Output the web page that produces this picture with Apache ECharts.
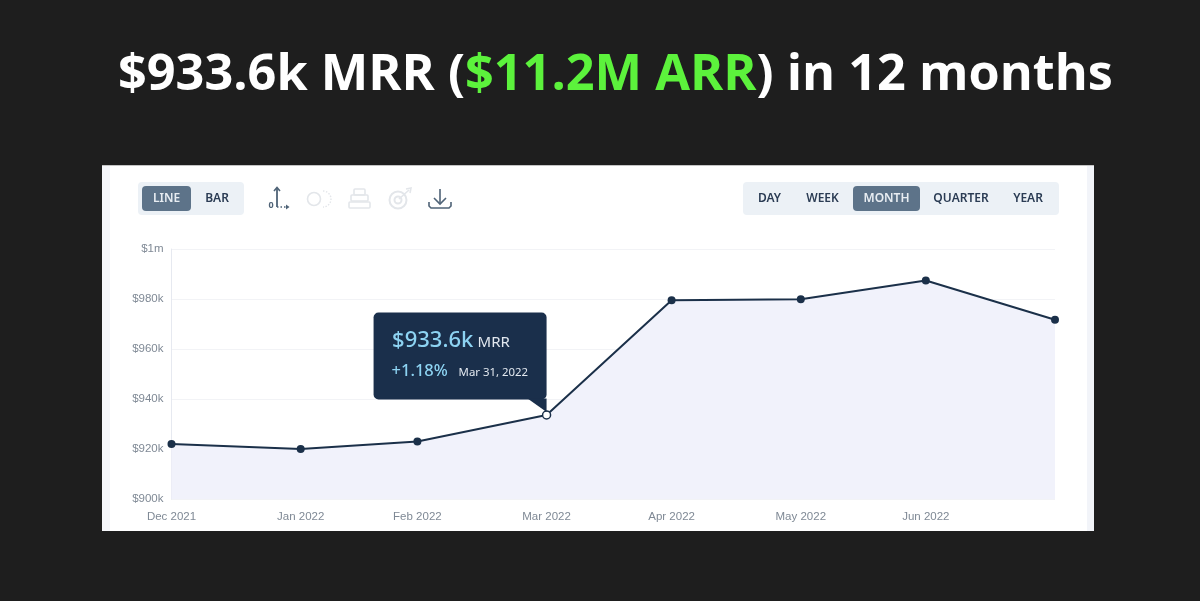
<!DOCTYPE html>
<html lang="en">

<head>
    <meta charset="UTF-8">
    <title>MRR Line Chart</title>
    <style>
        html, body { margin: 0; padding: 0; background: #1e1e1e; }
    </style>
    <script src="https://cdn.jsdelivr.net/npm/echarts@6/dist/echarts.min.js"></script>
</head>

<body>
    <div id="chart" style="width: 1200px; height: 601px;"></div>
    <script>
        const dates = ['2021-12-31', '2022-01-31', '2022-02-28', '2022-03-31', '2022-04-30', '2022-05-31', '2022-06-30', '2022-07-31'];
        const mrr = [922000, 920000, 923000, 933600, 979500, 979900, 987400, 971700];
        const monthLabels = ['Dec 2021', 'Jan 2022', 'Feb 2022', 'Mar 2022', 'Apr 2022', 'May 2022', 'Jun 2022'];
        const yTicks = { 900000: '$900k', 920000: '$920k', 940000: '$940k', 960000: '$960k', 980000: '$980k', 1000000: '$1m' };
        const chartTypes = ['LINE', 'BAR'];
        const periods = ['DAY', 'WEEK', 'MONTH', 'QUARTER', 'YEAR'];

        // x is a plain value axis in timestamps, months are not evenly wide
        const times = dates.map(d => +echarts.time.parse(d));
        const selected = 3;

        let myChart = echarts.init(document.getElementById('chart'));

        const sans = '"Liberation Sans", Arial, sans-serif';
        const ui = '"Noto Sans", sans-serif';

        function button(x, y, w, h, label, active) {
            let items = [];
            if (active) {
                items.push({ type: 'rect', shape: { x: x, y: y, width: w, height: h, r: 4 }, style: { fill: '#5d7389' }, z: 3 });
            }
            items.push({
                type: 'text', x: x + w / 2, y: y + h / 2 + 0.5, z: 4,
                style: { text: label, fill: active ? '#e8edf2' : '#2b3c54', font: '600 12px ' + ui, align: 'center', verticalAlign: 'middle' }
            });
            return items;
        }

        function stroke(shapeType, shape, color, width, dash) {
            return { type: shapeType, shape: shape, z: 3, style: { stroke: color, lineWidth: width || 1.6, fill: null, lineDash: dash || null } };
        }

        const iconDark = '#4f6377';
        const iconLight = '#e3e6ea';
        const icons = [
            // axis icon
            stroke('line', { x1: 277, y1: 188, x2: 277, y2: 207 }, iconDark, 1.8),
            stroke('polyline', { points: [[274, 191], [277, 187.5], [280, 191]] }, iconDark),
            { type: 'text', x: 271, y: 205, z: 3, style: { text: '0', fill: iconDark, font: 'bold 9px ' + ui, align: 'center', verticalAlign: 'middle' } },
            stroke('line', { x1: 277, y1: 207, x2: 286, y2: 207 }, iconDark, 1.6, [1.5, 2]),
            { type: 'polygon', shape: { points: [[286, 204.5], [289.5, 207], [286, 209.5]] }, style: { fill: iconDark }, z: 3 },
            // overlap icon
            stroke('circle', { cx: 314, cy: 199, r: 6.5 }, iconLight),
            stroke('arc', { cx: 323, cy: 199, r: 8, startAngle: -Math.PI / 2, endAngle: Math.PI / 2 }, iconLight, 1.4, [1.5, 1.5]),
            // stack icon
            stroke('rect', { x: 354, y: 189, width: 11, height: 6, r: 1 }, iconLight),
            stroke('rect', { x: 351, y: 195, width: 17, height: 6, r: 1 }, iconLight),
            stroke('rect', { x: 349, y: 202, width: 21, height: 6, r: 1 }, iconLight),
            // target icon
            stroke('circle', { cx: 398, cy: 200, r: 8.5 }, iconLight, 2),
            stroke('circle', { cx: 398, cy: 200, r: 3.5 }, iconLight, 2),
            stroke('line', { x1: 399, y1: 199, x2: 409, y2: 190 }, iconLight),
            stroke('polyline', { points: [[406, 189], [411, 188], [410, 193]] }, iconLight),
            // download icon
            stroke('line', { x1: 440, y1: 189, x2: 440, y2: 203 }, iconDark),
            stroke('polyline', { points: [[434, 198], [440, 204], [446, 198]] }, iconDark),
            stroke('polyline', { points: [[429, 202], [429, 206], [431, 208], [449, 208], [451, 206], [451, 202]] }, iconDark)
        ];

        const chrome = [
            { type: 'rect', shape: { x: 102, y: 165, width: 992, height: 366 }, style: { fill: '#ffffff' }, z: -1 },
            { type: 'rect', shape: { x: 102, y: 165, width: 8, height: 366 }, style: { fill: '#f5f6fa' }, z: -1 },
            { type: 'rect', shape: { x: 1087, y: 165, width: 7, height: 366 }, style: { fill: '#f2f4f9' }, z: -1 },
            { type: 'rect', shape: { x: 102, y: 165, width: 992, height: 1 }, style: { fill: '#c4c4c4' }, z: -1 },
            { type: 'rect', shape: { x: 138, y: 182, width: 106, height: 33, r: 4 }, style: { fill: '#ecf1f6' }, z: 2 },
            { type: 'rect', shape: { x: 743, y: 182, width: 316, height: 33, r: 4 }, style: { fill: '#ecf1f6' }, z: 2 }
        ].concat(
            button(142, 186, 49, 25, chartTypes[0], true),
            button(193, 186, 48, 25, chartTypes[1], false),
            button(750, 186, 39, 25, periods[0], false),
            button(798, 186, 49, 25, periods[1], false),
            button(853, 186, 67, 25, periods[2], true),
            button(926, 186, 70, 25, periods[3], false),
            button(1004, 186, 48, 25, periods[4], false),
            icons
        );

        let option = {
            animation: false,
            backgroundColor: '#1e1e1e',
            title: {
                left: 113,
                top: 46,
                text: '{w|$933.6k MRR (}{g|$11.2M ARR}{w|) in 12 months}',
                textStyle: {
                    rich: {
                        w: { color: '#ffffff', fontSize: 50.4, fontWeight: 'bold', fontFamily: '"Open Sans", sans-serif' },
                        g: { color: '#5cf23c', fontSize: 50.4, fontWeight: 'bold', fontFamily: '"Open Sans", sans-serif' }
                    }
                }
            },
            grid: { left: 171.5, right: 145, top: 249, bottom: 102 },
            xAxis: {
                type: 'value',
                min: times[0],
                max: times[times.length - 1],
                axisLine: { show: false },
                axisTick: { show: false },
                splitLine: { show: false },
                axisLabel: {
                    customValues: times.slice(0, monthLabels.length),
                    formatter: v => monthLabels[times.indexOf(v)] || '',
                    color: '#7f8995',
                    fontSize: 11.5,
                    fontFamily: sans,
                    margin: 12,
                    hideOverlap: false
                }
            },
            yAxis: {
                type: 'value',
                min: 900000,
                max: 1000000,
                interval: 20000,
                axisLine: { show: true, lineStyle: { color: '#e6e9f0', width: 1 } },
                axisTick: { show: false },
                splitLine: { lineStyle: { color: '#e4e7ec', type: 'dotted', width: 1 } },
                axisLabel: {
                    formatter: v => yTicks[v],
                    color: '#7f8995',
                    fontSize: 11.5,
                    fontFamily: sans,
                    margin: 8,
                    padding: [4, 0, 0, 0]
                }
            },
            series: [
                {
                    type: 'line',
                    data: times.map((t, i) => ({
                        value: [t, mrr[i]],
                        itemStyle: i === selected ? { color: '#ffffff', borderColor: '#1b3049', borderWidth: 1.5 } : undefined
                    })),
                    symbol: 'circle',
                    symbolSize: 8,
                    showAllSymbol: true,
                    z: 5,
                    itemStyle: { color: '#1b3049' },
                    lineStyle: { color: '#1b3049', width: 2 },
                    areaStyle: { color: '#f1f2fb', opacity: 1 }
                }
            ],
            graphic: chrome
        };

        myChart.setOption(option);

        // tooltip sits relative to the selected point
        const p = myChart.convertToPixel('grid', [times[selected], mrr[selected]]);
        const bx = p[0] - 173, by = p[1] - 102.5;
        myChart.setOption({
            graphic: chrome.concat([
                { type: 'rect', shape: { x: bx, y: by, width: 173, height: 87, r: 5 }, style: { fill: '#1a2f4b' }, z: 10 },
                { type: 'polygon', shape: { points: [[p[0] - 19, by + 86], [p[0], by + 86], [p[0], p[1] - 3]] }, style: { fill: '#1a2f4b' }, z: 10 },
                { type: 'text', x: bx + 18.5, y: by + 28, z: 11, style: { text: '$933.6k', fill: '#8dd3f2', font: '500 22px ' + ui, verticalAlign: 'middle' } },
                { type: 'text', x: bx + 104, y: by + 30, z: 11, style: { text: 'MRR', fill: '#e2e8ef', font: '15px ' + ui, verticalAlign: 'middle' } },
                { type: 'text', x: bx + 18, y: by + 59, z: 11, style: { text: '+1.18%', fill: '#8dd3f2', font: '500 16.5px ' + ui, verticalAlign: 'middle' } },
                { type: 'text', x: bx + 85, y: by + 60, z: 11, style: { text: 'Mar 31, 2022', fill: '#e2e8ef', font: '11.4px ' + ui, verticalAlign: 'middle' } }
            ])
        });
    </script>
</body>

</html>
